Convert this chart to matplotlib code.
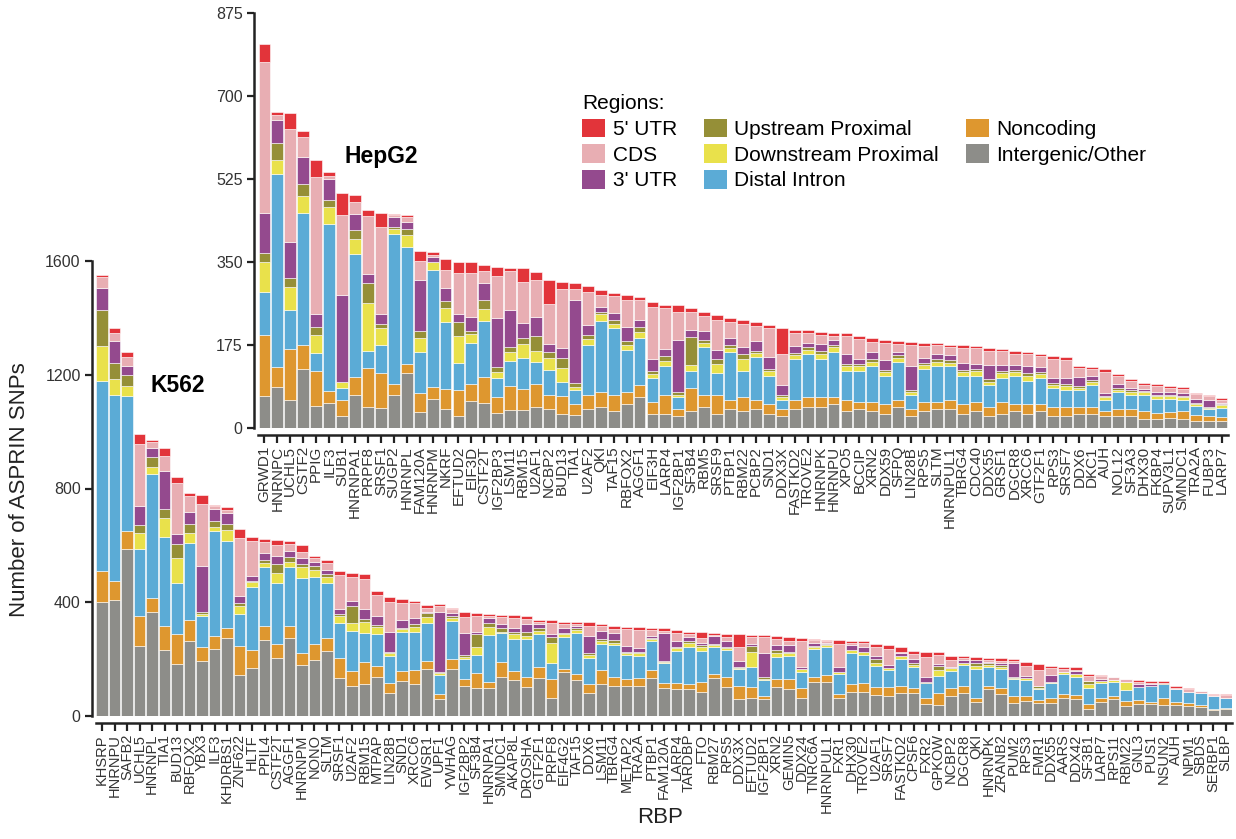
import matplotlib.pyplot as plt
import numpy as np
from matplotlib.patches import Patch

plt.rcParams['font.family'] = ['Liberation Sans', 'DejaVu Sans']

# region names, legend order and stacking order (bottom -> top)
regions = ["5' UTR", 'CDS', "3' UTR", 'Upstream Proximal', 'Downstream Proximal',
           'Distal Intron', 'Noncoding', 'Intergenic/Other']
region_colors = {"5' UTR": '#E2343A', 'CDS': '#E8AEB3', "3' UTR": '#944A8E',
                 'Upstream Proximal': '#958F37', 'Downstream Proximal': '#E9E14B',
                 'Distal Intron': '#5BABD6', 'Noncoding': '#DE972F',
                 'Intergenic/Other': '#8D8D89'}
stack_order = ['Intergenic/Other', 'Noncoding', 'Distal Intron', 'Downstream Proximal',
               'Upstream Proximal', "3' UTR", 'CDS', "5' UTR"]

# ---------------- K562 ----------------
k562_rbp = ['KHSRP', 'HNRNPU', 'SAFB2', 'UCHL5', 'HNRNPL', 'TIA1', 'BUD13', 'RBFOX2', 'YBX3', 'ILF3',
            'KHDRBS1', 'ZNF622', 'HLTF', 'PPIL4', 'CSTF2T', 'AGGF1', 'HNRNPM', 'NONO', 'SLTM', 'SRSF1',
            'U2AF2', 'RBM15', 'MTPAP', 'LIN28B', 'SND1', 'XRCC6', 'EWSR1', 'UPF1', 'YWHAG', 'IGF2BP2',
            'SF3B4', 'HNRNPA1', 'SMNDC1', 'AKAP8L', 'DROSHA', 'GTF2F1', 'PRPF8', 'EIF4G2', 'TAF15', 'DDX6',
            'LSM11', 'TBRG4', 'METAP2', 'TRA2A', 'PTBP1', 'FAM120A', 'LARP4', 'TARDBP', 'FTO', 'RBM27',
            'RPS5', 'DDX3X', 'EFTUD2', 'IGF2BP1', 'XRN2', 'GEMIN5', 'DDX24', 'TNRC6A', 'HNRNPUL1', 'FXR1',
            'DHX30', 'TROVE2', 'U2AF1', 'SRSF7', 'FASTKD2', 'CPSF6', 'FXR2', 'GPKOW', 'NCBP2', 'DGCR8',
            'QKI', 'HNRNPK', 'ZRANB2', 'PUM2', 'RPS3', 'FMR1', 'DDX55', 'AARS', 'DDX42', 'SF3B1',
            'LARP7', 'RPS11', 'RBM22', 'GNL3', 'PUS1', 'NSUN2', 'AUH', 'NPM1', 'SBDS', 'SERBP1',
            'SLBP']
k562_intergenic = [400, 409, 587, 245, 365, 233, 183, 263, 195, 236, 273, 145, 169, 269, 204, 273, 181, 198, 228, 134,
                   107, 113, 138, 82, 124, 113, 164, 59, 164, 106, 100, 100, 138, 127, 103, 135, 62, 156, 127, 82,
                   113, 106, 106, 106, 135, 100, 95, 95, 86, 133, 103, 60, 65, 60, 101, 95, 65, 121, 121, 62,
                   86, 86, 74, 70, 80, 80, 42, 39, 70, 82, 50, 94, 76, 47, 53, 47, 47, 62, 59, 23,
                   50, 59, 35, 42, 42, 39, 39, 35, 31, 21, 23]
k562_noncoding = [111, 64, 63, 106, 49, 85, 106, 75, 47, 47, 36, 100, 64, 49, 49, 43, 41, 55, 45, 70,
                  53, 76, 39, 33, 34, 49, 31, 18, 37, 24, 50, 21, 51, 31, 33, 39, 68, 9, 21, 29,
                  49, 32, 24, 29, 27, 15, 22, 16, 35, 14, 35, 46, 36, 12, 28, 34, 32, 17, 23, 15,
                  25, 29, 29, 33, 26, 17, 23, 41, 30, 24, 15, 12, 21, 23, 17, 9, 15, 15, 15, 19,
                  15, 11, 18, 14, 8, 23, 9, 12, 8, 2, 6]
k562_distal = [666, 655, 475, 237, 438, 311, 179, 270, 108, 366, 308, 114, 220, 205, 215, 207, 264, 237, 194, 123,
               140, 103, 112, 96, 139, 135, 131, 67, 133, 71, 65, 164, 102, 112, 135, 115, 55, 112, 143, 94,
               90, 110, 85, 76, 102, 70, 112, 133, 109, 97, 94, 58, 73, 55, 80, 82, 59, 98, 98, 70,
               110, 100, 73, 59, 93, 77, 50, 61, 58, 74, 99, 65, 67, 59, 57, 38, 53, 70, 62, 58,
               50, 51, 38, 47, 57, 49, 46, 39, 41, 47, 33]
k562_downstream = [123, 58, 34, 57, 25, 67, 87, 35, 9, 17, 38, 29, 17, 14, 35, 18, 37, 24, 21, 26,
                   27, 38, 25, 12, 8, 17, 21, 6, 10, 8, 29, 29, 3, 19, 12, 11, 73, 12, 12, 10,
                   12, 8, 6, 10, 6, 6, 9, 12, 12, 6, 6, 6, 50, 3, 12, 12, 8, 8, 8, 7,
                   11, 11, 12, 8, 12, 6, 0, 21, 10, 8, 12, 9, 10, 4, 6, 6, 6, 6, 11, 13,
                   8, 6, 30, 0, 0, 0, 0, 0, 0, 0, 3]
k562_upstream = [129, 54, 39, 25, 34, 31, 50, 33, 6, 18, 21, 10, 6, 12, 30, 17, 12, 12, 12, 6,
                 59, 11, 6, 3, 4, 10, 14, 6, 6, 6, 45, 12, 17, 8, 14, 9, 21, 4, 8, 6,
                 6, 12, 5, 5, 3, 3, 6, 9, 8, 3, 6, 4, 22, 6, 11, 3, 0, 2, 2, 0,
                 0, 0, 11, 0, 0, 5, 6, 15, 0, 0, 9, 5, 6, 3, 0, 6, 0, 0, 0, 11,
                 0, 0, 0, 0, 0, 6, 0, 0, 0, 0, 0]
k562_utr3 = [77, 78, 32, 68, 32, 134, 34, 43, 164, 45, 39, 23, 18, 25, 31, 22, 20, 15, 14, 18,
             18, 36, 30, 71, 29, 22, 6, 208, 11, 78, 8, 20, 12, 12, 27, 15, 10, 16, 7, 61,
             30, 23, 20, 12, 9, 97, 20, 12, 8, 29, 21, 20, 7, 87, 16, 22, 10, 10, 6, 17,
             18, 18, 12, 10, 10, 14, 15, 6, 6, 9, 12, 6, 8, 49, 9, 0, 23, 3, 11, 0,
             6, 0, 0, 8, 4, 0, 0, 0, 0, 0, 0]
k562_cds = [36, 29, 34, 218, 20, 55, 182, 53, 216, 8, 8, 204, 123, 37, 36, 25, 23, 14, 25, 119,
            84, 105, 74, 105, 59, 51, 14, 23, 14, 54, 56, 6, 24, 35, 16, 6, 37, 15, 5, 36,
            16, 14, 60, 65, 21, 9, 29, 12, 18, 3, 14, 50, 24, 56, 22, 17, 91, 12, 6, 81,
            6, 12, 31, 55, 5, 19, 73, 32, 23, 6, 0, 6, 7, 9, 35, 56, 24, 8, 4, 18,
            12, 9, 8, 7, 6, 0, 6, 9, 7, 5, 10]
k562_utr5 = [10, 19, 15, 37, 6, 26, 21, 13, 33, 6, 11, 33, 12, 11, 19, 9, 22, 7, 10, 15,
             14, 18, 17, 16, 15, 9, 11, 6, 6, 18, 8, 8, 9, 10, 12, 8, 10, 8, 7, 11,
             8, 12, 8, 9, 8, 8, 10, 8, 21, 6, 10, 43, 8, 6, 13, 14, 11, 3, 4, 16,
             9, 9, 11, 13, 18, 11, 15, 9, 14, 8, 12, 6, 8, 6, 14, 20, 8, 10, 9, 6,
             3, 2, 2, 8, 6, 6, 7, 2, 2, 2, 3]

# ---------------- HepG2 ----------------
hepg2_rbp = ['GRWD1', 'HNRNPC', 'UCHL5', 'CSTF2', 'PPIG', 'ILF3', 'SUB1', 'HNRNPA1', 'PRPF8', 'SRSF1',
             'SUGP2', 'HNRNPL', 'FAM120A', 'HNRNPM', 'NKRF', 'EFTUD2', 'EIF3D', 'CSTF2T', 'IGF2BP3', 'LSM11',
             'RBM15', 'U2AF1', 'NCBP2', 'BUD13', 'TIA1', 'U2AF2', 'QKI', 'TAF15', 'RBFOX2', 'AGGF1',
             'EIF3H', 'LARP4', 'IGF2BP1', 'SF3B4', 'RBM5', 'SRSF9', 'PTBP1', 'RBM22', 'PCBP2', 'SND1',
             'DDX3X', 'FASTKD2', 'TROVE2', 'HNRNPK', 'HNRNPU', 'XPO5', 'BCCIP', 'XRN2', 'DDX59', 'SFPQ',
             'LIN28B', 'RPS5', 'SLTM', 'HNRNPUL1', 'TBRG4', 'CDC40', 'DDX55', 'GRSF1', 'DGCR8', 'XRCC6',
             'GTF2F1', 'RPS3', 'SRSF7', 'DDX6', 'DKC1', 'AUH', 'NOL12', 'SF3A3', 'DHX30', 'FKBP4',
             'SUPV3L1', 'SMNDC1', 'TRA2A', 'FUBP3', 'LARP7']
hepg2_intergenic = [68, 86, 60, 124, 46, 53, 25, 70, 45, 43, 70, 117, 34, 62, 41, 26, 56, 52, 31, 39,
                    38, 45, 40, 29, 28, 40, 45, 35, 50, 65, 30, 30, 25, 35, 45, 30, 40, 35, 40, 30,
                    25, 40, 45, 45, 50, 35, 40, 35, 30, 45, 25, 35, 40, 40, 30, 35, 25, 30, 35, 30,
                    35, 25, 25, 30, 30, 25, 25, 25, 20, 20, 22, 20, 15, 15, 15]
hepg2_noncoding = [128, 42, 106, 50, 74, 26, 33, 37, 81, 72, 22, 17, 40, 25, 41, 54, 37, 56, 35, 50,
                   44, 47, 30, 39, 22, 30, 30, 35, 25, 25, 25, 40, 15, 50, 25, 40, 20, 30, 20, 20,
                   15, 20, 20, 20, 15, 25, 15, 20, 20, 15, 15, 20, 15, 20, 20, 20, 20, 25, 15, 20,
                   15, 20, 20, 15, 15, 10, 15, 15, 15, 12, 12, 15, 12, 10, 8]
hepg2_distal = [91, 407, 83, 279, 39, 351, 26, 260, 37, 60, 318, 247, 87, 246, 141, 58, 87, 118, 39, 53,
                65, 48, 52, 30, 30, 105, 150, 140, 90, 100, 50, 60, 25, 35, 100, 45, 100, 55, 90, 60,
                20, 85, 90, 80, 95, 60, 65, 75, 60, 80, 30, 70, 75, 70, 60, 55, 45, 50, 60, 50,
                55, 40, 35, 35, 45, 25, 35, 30, 35, 30, 28, 25, 20, 15, 20]
hepg2_downstream = [62, 31, 49, 37, 38, 35, 14, 31, 101, 35, 10, 26, 28, 17, 29, 55, 18, 24, 14, 19,
                    30, 23, 25, 29, 6, 12, 15, 10, 10, 12, 8, 12, 5, 12, 10, 20, 8, 25, 8, 10,
                    5, 8, 10, 12, 10, 10, 10, 10, 8, 8, 5, 8, 10, 8, 8, 10, 8, 10, 8, 10,
                    8, 5, 8, 5, 8, 5, 6, 5, 5, 5, 5, 5, 4, 3, 5]
hepg2_upstream = [21, 34, 19, 24, 15, 16, 0, 19, 42, 9, 3, 13, 15, 1, 16, 30, 6, 20, 9, 10,
                  12, 30, 13, 20, 8, 10, 5, 8, 8, 10, 8, 10, 5, 60, 5, 10, 6, 10, 5, 5,
                  5, 5, 5, 5, 5, 5, 5, 5, 5, 5, 5, 5, 5, 5, 5, 5, 5, 5, 4, 5,
                  5, 5, 5, 3, 3, 3, 3, 5, 3, 3, 3, 3, 2, 2, 2]
hepg2_utr3 = [83, 49, 76, 58, 28, 44, 182, 34, 19, 21, 21, 15, 109, 10, 28, 17, 29, 35, 103, 78,
              32, 40, 18, 21, 175, 20, 10, 15, 30, 15, 25, 15, 110, 15, 20, 20, 15, 15, 20, 25,
              20, 15, 10, 15, 10, 20, 10, 15, 20, 8, 50, 10, 10, 10, 15, 10, 30, 12, 10, 15,
              10, 10, 12, 20, 8, 6, 8, 5, 5, 5, 5, 5, 8, 15, 3]
hepg2_cds = [319, 11, 237, 42, 290, 7, 170, 26, 121, 184, 5, 9, 40, 3, 38, 87, 93, 27, 89, 81,
             87, 80, 83, 125, 25, 70, 25, 35, 57, 42, 110, 85, 60, 38, 32, 63, 35, 50, 33, 60,
             65, 28, 20, 20, 10, 38, 42, 22, 37, 17, 45, 25, 19, 17, 31, 33, 30, 30, 25, 25,
             23, 40, 38, 18, 15, 45, 18, 14, 8, 14, 10, 9, 10, 7, 7]
hepg2_utr5 = [38, 6, 35, 12, 35, 7, 45, 14, 13, 29, 3, 5, 21, 8, 22, 24, 23, 12, 19, 8,
              29, 15, 50, 15, 12, 13, 10, 7, 10, 7, 10, 7, 14, 8, 8, 10, 8, 8, 7, 7,
              56, 6, 7, 5, 5, 7, 7, 8, 6, 5, 6, 6, 5, 5, 6, 5, 6, 5, 5, 5,
              5, 7, 7, 5, 5, 5, 4, 4, 4, 4, 4, 4, 3, 3, 3]

k562_layers = {'Intergenic/Other': k562_intergenic, 'Noncoding': k562_noncoding,
               'Distal Intron': k562_distal, 'Downstream Proximal': k562_downstream,
               'Upstream Proximal': k562_upstream, "3' UTR": k562_utr3,
               'CDS': k562_cds, "5' UTR": k562_utr5}
hepg2_layers = {'Intergenic/Other': hepg2_intergenic, 'Noncoding': hepg2_noncoding,
                'Distal Intron': hepg2_distal, 'Downstream Proximal': hepg2_downstream,
                'Upstream Proximal': hepg2_upstream, "3' UTR": hepg2_utr3,
                'CDS': hepg2_cds, "5' UTR": hepg2_utr5}


def draw_stack(ax, names, layers, yticks, xlabelsize):
    x = np.arange(len(names))
    bottom = np.zeros(len(names))
    for reg in stack_order:
        vals = np.array(layers[reg], dtype=float)
        ax.bar(x, vals, bottom=bottom, width=0.92, color=region_colors[reg],
               edgecolor='white', linewidth=0.4)
        bottom += vals
    ax.set_xlim(-0.5, len(names) - 0.5)
    ax.set_ylim(0, yticks[-1])
    ax.set_yticks(yticks)
    ax.set_xticks(x)
    ax.set_xticklabels(names)
    ax.tick_params(axis='x', length=6, width=1.6, color='#222222', pad=2,
                   labelrotation=90, labelsize=xlabelsize, labelcolor='#333333')
    ax.tick_params(axis='y', length=5, width=1.6, color='#222222', labelsize=11.5,
                   labelcolor='#333333', pad=3)
    for s in ['top', 'right']:
        ax.spines[s].set_visible(False)
    ax.spines['left'].set_position(('outward', 3))
    ax.spines['bottom'].set_position(('outward', 5))
    for s in ['left', 'bottom']:
        ax.spines[s].set_linewidth(1.8)
        ax.spines[s].set_color('#222222')
    ax.patch.set_alpha(0)


fig = plt.figure(figsize=(12.36, 8.39), dpi=100)

ax1 = fig.add_axes([96 / 1236, 123 / 839, 1136 / 1236, 455 / 839])
draw_stack(ax1, k562_rbp, k562_layers, [0, 400, 800, 1200, 1600], 10.5)
ax1.set_ylabel('Number of ASPRIN SNPs', fontsize=16, color='#222222')
ax1.yaxis.set_label_coords(-0.058, 0.497)
ax1.set_xlabel('RBP', fontsize=16, color='#222222')
ax1.xaxis.set_label_coords(0.4965, -0.2)

ax2 = fig.add_axes([258 / 1236, 411 / 839, 970 / 1236, 415 / 839])
draw_stack(ax2, hepg2_rbp, hepg2_layers, [0, 175, 350, 525, 700, 875], 11)

fig.text(150 / 1236, 1 - 385 / 839, 'K562', fontsize=16.5, fontweight='bold', va='center')
fig.text(345 / 1236, 1 - 157 / 839, 'HepG2', fontsize=16.5, fontweight='bold', va='center')

handles = [Patch(facecolor=region_colors[r], edgecolor='none') for r in regions]
leg = fig.legend(handles, regions, ncol=3, title='Regions:', loc='upper left',
                 bbox_to_anchor=(572 / 1236, 1 - 84 / 839), frameon=False, fontsize=15,
                 title_fontsize=15, handlelength=1.1, handleheight=1.0, handletextpad=0.35,
                 labelspacing=0.25, columnspacing=1.3, borderpad=0, alignment='left')

fig.savefig('out.png', dpi=100)
